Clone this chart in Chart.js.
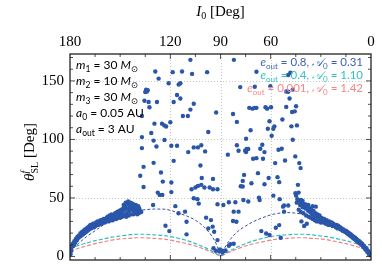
<!DOCTYPE html>
<html>
<head>
<meta charset="utf-8">
<script src="https://cdn.jsdelivr.net/npm/chart.js@4/dist/chart.umd.min.js"></script>
<style>
html, body { margin: 0; padding: 0; background: #fff; }
canvas { display: block; }
</style>
</head>
<body>
<canvas id="chart" width="382" height="265"></canvas>
<script>
// axis ticks
const xTicks = [180, 120, 90, 60, 0];
const yTicks = [0, 50, 100, 150];

// analytic curves, sampled in I0 [deg]
const curveAngles = [180, 175, 170, 165, 160, 155, 150, 145, 140, 135, 130, 125, 120, 115, 110, 105, 100, 95, 92, 90, 88, 85, 80, 75, 70, 65, 60, 55, 50, 45, 40, 35, 30, 25, 20, 15, 10, 5, 0];
const curveE08 = [4, 11, 17, 22, 27, 31, 34, 37, 39, 40, 40.5, 40.5, 39.5, 37, 34.5, 31, 25.5, 17, 9, 0, 6, 13, 21, 26, 30, 33, 35.5, 37, 37.5, 37, 36, 34, 31.5, 28, 24, 19, 14, 9, 3];
const curveE04 = [7, 9.5, 11.5, 13.5, 15, 16.5, 17.5, 18.5, 19, 19, 18.5, 18, 17, 15.5, 13.5, 11, 8, 4.5, 2, 0.5, 2, 4.5, 8, 11, 13.5, 15.5, 17, 18, 18.5, 19, 19, 18.5, 17.5, 16.5, 15, 13.5, 11.5, 9.5, 7];
const curveE0001 = [4.5, 7, 9, 11, 12.5, 14, 15, 15.5, 16, 16, 15.5, 15, 14, 12.5, 11, 9, 6.5, 3.5, 1.5, 0.5, 1.5, 3.5, 6.5, 9, 11, 12.5, 14, 15, 15.5, 16, 16, 15.5, 15, 14, 12.5, 11, 9, 7, 4.5];

// simulated points [I0, theta_SL^f]
const leftBand = [
  [179.7,2],[179.7,4],[179.2,5],[179.2,8],[178.5,9],[178.3,11],[177.6,10],[177.4,13],[176.8,12],[176.5,15],
  [175.8,14],[175.5,17],[174.9,16],[174.6,18],[174,17],[173.7,20],[173.1,18],[172.8,21],[172.2,19],[171.9,22],
  [171.3,20],[171,23],[170.4,21],[170.1,24],[169.5,22],[169.2,25],[168.6,23],[168.3,26],[167.8,27],[167.4,24],
  [167.1,27],[166.5,25],[166.2,28],[165.6,25],[165.3,28],[164.7,26],[164.4,29],[163.8,27],[163.5,30],[162.9,27],
  [162.6,30],[162,28],[161.7,31],[161.1,28],[160.8,31],[160.2,29],[159.9,32],[159.3,29],[159,32],[158.4,30],
  [158.1,33],[157.8,31],[157.5,34],[156.9,30],[156.6,33],[156.3,35],[155.7,31],[155.4,34],[155.1,36],[154.5,31],
  [154.2,35],[153.6,32],[153.3,34],[153,37],[152.4,32],[152.1,36],[151.8,38],[151.2,33],[150.9,35],[150.6,39],
  [150,33],[149.7,37],[149.4,40],[148.8,34],[148.5,38],[148.2,41],[147.9,44],[147.6,35],[147.3,40],[147,43],
  [146.7,46],[146.4,34],[146.1,37],[145.8,41],[145.5,45],[145.2,47],[144.9,35],[144.6,39],[144.3,44],[144,42],
  [143.7,46],[143.4,36],[143.1,40],[142.8,42],[142.5,45],[142.2,36],[141.9,39],[141.6,43],[141.3,37],[141,40],
  [140.7,44],[140.4,38],[140.1,42],[139.8,36],[139.5,40],[139.2,43],[138.9,37],[138.6,41],[138,39],[137.4,38]
];
const rightBand = [
  [0.3,1],[0.6,2],[0.9,3],[1.2,2],[1.5,4],[1.9,5],[2.3,4],[2.6,6],[3,7],[3.4,6],
  [3.8,8],[4.2,9],[4.6,8],[5,10],[5.4,11],[5.8,10],[6.2,12],[6.6,11],[7,13],[7.5,12],
  [7.9,14],[8.3,13],[8.7,15],[9.1,14],[9.5,16],[10,15],[10.4,17],[10.9,16],[11.3,18],[11.8,17],
  [12.2,19],[12.7,18],[13.1,20],[13.6,19],[14,21],[14.5,20],[15,22],[15.5,21],[16,22],[16.5,23],
  [17,22],[17.5,24],[18,23],[18.5,25],[19,24],[19.5,26],[20,24],[20.5,27],[21,25],[21.5,27],
  [22,26],[22.5,28],[23,26],[23.5,29],[24,27],[24.5,28],[25,30],[25.5,27],[26,29],[26.5,31],
  [27,28],[27.5,30],[28,32],[28.5,29],[29,31],[29.5,33],[30,29],[30.4,32],[30.8,35],[31.2,30],
  [31.6,33],[32,36],[32.4,30],[32.8,34],[33.2,37],[33.6,31],[34,35],[34.4,39],[34.8,32],[35.2,36],
  [35.6,40],[36,33],[36.4,38],[36.8,41],[37.2,34],[37.6,39],[38,43],[38.4,28],[38.8,35],[39.2,41],
  [39.6,44],[40,26],[40.4,37],[40.8,42],[41.2,45],[41.6,30],[42,38],[42.4,44],[42.8,47],[43.2,40],
  [43.6,48],[44,49],[44.4,46],[44.8,52],[45.2,54]
];
const scattered = [
  [108,168],[82,168],
  [129,158],[118.6,157.5],[113,158],[107,156],[98,157.5],[127,152],[121,148],[114,148],[115,147],[134.5,142.5],
  [133.5,142],[135,140.5],[134,141],[135.5,133],[133,132],[128,132],[132.5,127.5],[118,132],[116,138],[114,135],
  [106,130.5],[108,125.5],[137,120],[112.5,120],[109.5,120],[92.6,123],[129.5,113.5],[125,113.5],[123.6,112],
  [122.5,111],[120,114.7],[131.4,105.5],[137,102],[130,99],[123.5,99.5],[119.4,94.6],[116,94.6],[137,92.6],
  [128.3,94],[106,93.2],[103.5,93.2],[101.5,95],[109.3,89.2],[118,81.7],[136,76.6],[130,80],[102,77.8],[138,69],
  [125.6,71.8],[136,59.4],[124.5,64],[119.4,63.2],[101.2,67],[94.5,66.3],[127.5,54.6],[126.4,52.6],[124.8,52.6],
  [119.4,55],[107.3,57.5],[105,59],[103.5,60.3],[101.5,61.2],[99.6,59],[96.5,59],[94.5,57.5],[91.8,57.5],
  [106,49.7],[103.8,49],[103,45.2],[91.8,44.6],[130.3,44],[117,43],[88.3,44],
  [68.5,157.8],[48.2,157],[49.5,155],[50.7,141],[49.5,140.7],[48.7,135],[46.8,142.6],[78.2,144.7],[69.5,145],
  [60.2,145.5],[82.5,121.8],[72.8,127],[70.9,126.3],[69.5,127],[68.5,127],[63.1,127.5],[62.1,126.3],[59.8,127.5],
  [50.7,127.8],[44.8,128.4],[45.6,124],[47.2,123.5],[80.2,115],[60.7,115.5],[53,117],[44.3,112],[97.3,106.3],
  [72,107.8],[61.7,109.2],[57.8,111.2],[58.4,109.2],[47.6,111.2],[59.4,103.2],[74.7,100.6],[46.8,99.7],[80.2,95],
  [79.2,90.3],[74.4,91.8],[75.3,90.3],[73.4,91.8],[74.7,89.2],[65,95.5],[66.2,92],[63.7,89.2],[55.3,91.2],
  [53.4,92],[85.6,87],[45.3,85.5],[70.5,83.5],[68.5,84],[64.6,83.5],[57.3,79.8],[51.4,82],[42.9,79.8],[42.1,75.5],
  [99.2,89.8],[75.9,69.7],[76.7,64.6],[76.7,59.8],[77.9,60],[67.6,71.2],[61.2,67],[55.9,67.8],[54.9,63.5],
  [71.5,62.6],[63.7,61.7],[43.7,61.2],[43.3,54.6],[58.4,52],[54.6,49],[67,50.3],[66.6,48.3],[76.3,48.3],
  [73.4,47],[85,46.3],[81.1,46.3],[41.8,48.3],[40.9,47.4],[39.4,44.6],[37.5,44],[34.9,43],[33,42.6],[52,43.5],[49.5,43.5],
  [111.2,38.3],[115.1,36.9],[122.9,26.3],[120.6,21.7],[110.3,29.7],[110.3,18.9],[82.1,38.3],[79.2,38.3],[82.5,30.3],
  [80.5,29.7],[98.6,33.2],[95.7,31.1],[94.7,25.5],[97.3,24],[93.8,21.2],[91.8,14],[90.3,6],[88.9,3.4],[87.9,4.6],
  [87,5.1],[85,9.2],[84,10.6],[82.1,10.9],[54.9,26.8],[56.9,24.6],[65.6,21.7],[62.7,19.7],[60.7,18.3],[54,16],
  [52,38.3],[52.6,42.6],[94.2,7],[92.8,4.9],[90.9,4.6],[88.9,4.9]
];

const blue = 'rgb(42,86,170)';
const toXY = arr => arr.map(p => ({ x: p[0], y: p[1] }));
const curve = ys => curveAngles.map((a, i) => ({ x: a, y: ys[i] }));

// text with sub/superscripts: [text, font, dy, color, noAdvance]
function drawRich(ctx, segs, x, y, align) {
  let total = 0;
  segs.forEach(s => {
    ctx.font = s[1];
    if (!s[4]) total += ctx.measureText(s[0]).width;
  });
  let cx = align === 'right' ? x - total : align === 'center' ? x - total / 2 : x;
  ctx.textAlign = 'left';
  ctx.textBaseline = 'alphabetic';
  segs.forEach(s => {
    ctx.font = s[1];
    ctx.fillStyle = s[3] || '#000';
    ctx.fillText(s[0], cx, y + (s[2] || 0));
    if (!s[4]) cx += ctx.measureText(s[0]).width;
  });
}

const framePlugin = {
  id: 'frame',
  beforeDatasetsDraw(chart) {
    const { ctx, chartArea: a, scales: { x, y } } = chart;
    ctx.save();
    ctx.strokeStyle = '#c8c8c8';
    ctx.lineWidth = 1;
    ctx.setLineDash([1, 2]);
    [120, 90, 60].forEach(v => {
      const px = Math.round(x.getPixelForValue(v)) + 0.5;
      ctx.beginPath(); ctx.moveTo(px, a.top); ctx.lineTo(px, a.bottom); ctx.stroke();
    });
    [50, 100, 150].forEach(v => {
      const py = Math.round(y.getPixelForValue(v)) + 0.5;
      ctx.beginPath(); ctx.moveTo(a.left, py); ctx.lineTo(a.right, py); ctx.stroke();
    });
    ctx.restore();
  },
  afterDraw(chart) {
    const { ctx, chartArea: a, scales: { x, y } } = chart;
    ctx.save();
    // frame
    ctx.strokeStyle = '#222';
    ctx.lineWidth = 1.3;
    ctx.strokeRect(a.left, a.top, a.right - a.left, a.bottom - a.top);
    // tick marks
    ctx.lineWidth = 0.8;
    ctx.beginPath();
    for (let v = 0; v <= 170; v += 10) {
      const py = y.getPixelForValue(v);
      const len = v % 50 === 0 ? 5 : 3;
      ctx.moveTo(a.left, py); ctx.lineTo(a.left + len, py);
      ctx.moveTo(a.right, py); ctx.lineTo(a.right - len, py);
    }
    for (let v = 15; v < 180; v += 15) {
      const px = x.getPixelForValue(v);
      const len = xTicks.includes(v) ? 5 : 3;
      ctx.moveTo(px, a.top); ctx.lineTo(px, a.top + len);
      ctx.moveTo(px, a.bottom); ctx.lineTo(px, a.bottom - len);
    }
    ctx.stroke();

    // tick labels
    ctx.fillStyle = '#000';
    ctx.font = '15px "Liberation Serif"';
    ctx.textBaseline = 'middle';
    ctx.textAlign = 'center';
    xTicks.forEach(v => ctx.fillText(String(v), x.getPixelForValue(v), a.top - 12));
    ctx.textAlign = 'right';
    yTicks.forEach(v => ctx.fillText(String(v), a.left - 6, y.getPixelForValue(v)));

    // axis titles
    const serif = '"Liberation Serif"';
    drawRich(ctx, [
      ['I', 'italic 15px ' + serif, 0],
      ['0', '10px ' + serif, 3],
      [' [Deg]', '15px ' + serif, 0]
    ], (a.left + a.right) / 2, 16, 'center');

    ctx.save();
    ctx.translate(29, (a.top + a.bottom) / 2 - 5);
    ctx.rotate(-Math.PI / 2);
    drawRich(ctx, [
      ['θ', 'italic 15px ' + serif, 0],
      ['f', 'italic 10px ' + serif, -6, '#000', true],
      ['SL', '10px ' + serif, 4],
      [' [Deg]', '15px ' + serif, 0]
    ], 0, 5, 'center');
    ctx.restore();

    // parameter list
    const sans = '"Lato", "DejaVu Sans"';
    const f = '12px ' + sans, fi = 'italic 12px ' + sans, fs = '8.5px ' + sans;
    const lx = a.left + 6;
    const rows = [
      [['m', fi], ['1', fs, 3], [' = 30 ', f], ['M', fi], ['⊙', fs, 3]],
      [['m', fi], ['2', fs, 3], [' = 10 ', f], ['M', fi], ['⊙', fs, 3]],
      [['m', fi], ['3', fs, 3], [' = 30 ', f], ['M', fi], ['⊙', fs, 3]],
      [['a', fi], ['0', fs, 3], [' = 0.05 AU', f]],
      [['a', fi], ['out', fs, 3], [' = 3 AU', f]]
    ];
    rows.forEach((r, i) => drawRich(ctx, r, lx, a.top + 15 + i * 16, 'left'));

    // curve labels
    const g = '11.5px ' + sans, gi = 'italic 11.5px ' + sans, gs = '8px ' + sans;
    const labels = [
      ['0.8', '0.31', 'rgb(60,95,180)'],
      ['0.4', '1.10', 'rgb(50,195,190)'],
      ['0.001', '1.42', 'rgb(245,135,135)']
    ];
    labels.forEach((l, i) => {
      const c = l[2];
      drawRich(ctx, [
        ['e', gi, 0, c], ['out', gs, 3, c], [' = ' + l[0] + ', ', g, 0, c],
        ['𝒜', gi, 0, c], ['0', gs, 3, c], [' = ' + l[1], g, 0, c]
      ], a.right - 8, a.top + 12 + i * 13, 'right');
    });
    ctx.restore();
  }
};

new Chart(document.getElementById('chart'), {
  type: 'scatter',
  data: {
    datasets: [
      {
        data: toXY(leftBand.concat(scattered, rightBand)),
        pointRadius: 2.2,
        pointBackgroundColor: blue,
        pointBorderWidth: 0
      },
      {
        data: curve(curveE08),
        showLine: true,
        pointRadius: 0,
        borderColor: 'rgb(60,75,170)',
        borderWidth: 1,
        borderDash: [3, 2],
        cubicInterpolationMode: 'monotone'
      },
      {
        data: curve(curveE04),
        showLine: true,
        pointRadius: 0,
        borderColor: 'rgb(45,190,190)',
        borderWidth: 1.2,
        borderDash: [4, 2],
        cubicInterpolationMode: 'monotone'
      },
      {
        data: curve(curveE0001),
        showLine: true,
        pointRadius: 0,
        borderColor: 'rgb(240,130,130)',
        borderWidth: 1.2,
        borderDash: [4, 2],
        cubicInterpolationMode: 'monotone'
      }
    ]
  },
  options: {
    responsive: false,
    animation: false,
    layout: { padding: { left: 62, right: 11, top: 46, bottom: 5 } },
    plugins: { legend: { display: false }, tooltip: { enabled: false } },
    scales: {
      x: {
        type: 'linear',
        position: 'top',
        reverse: true,
        min: 0,
        max: 180,
        ticks: { display: false },
        grid: { display: false },
        border: { display: false },
        afterBuildTicks: axis => { axis.ticks = xTicks.map(v => ({ value: v })); }
      },
      y: {
        type: 'linear',
        min: -3,
        max: 173,
        ticks: { display: false },
        grid: { display: false },
        border: { display: false },
        afterBuildTicks: axis => { axis.ticks = yTicks.map(v => ({ value: v })); }
      }
    }
  },
  plugins: [framePlugin]
});
</script>
</body>
</html>
